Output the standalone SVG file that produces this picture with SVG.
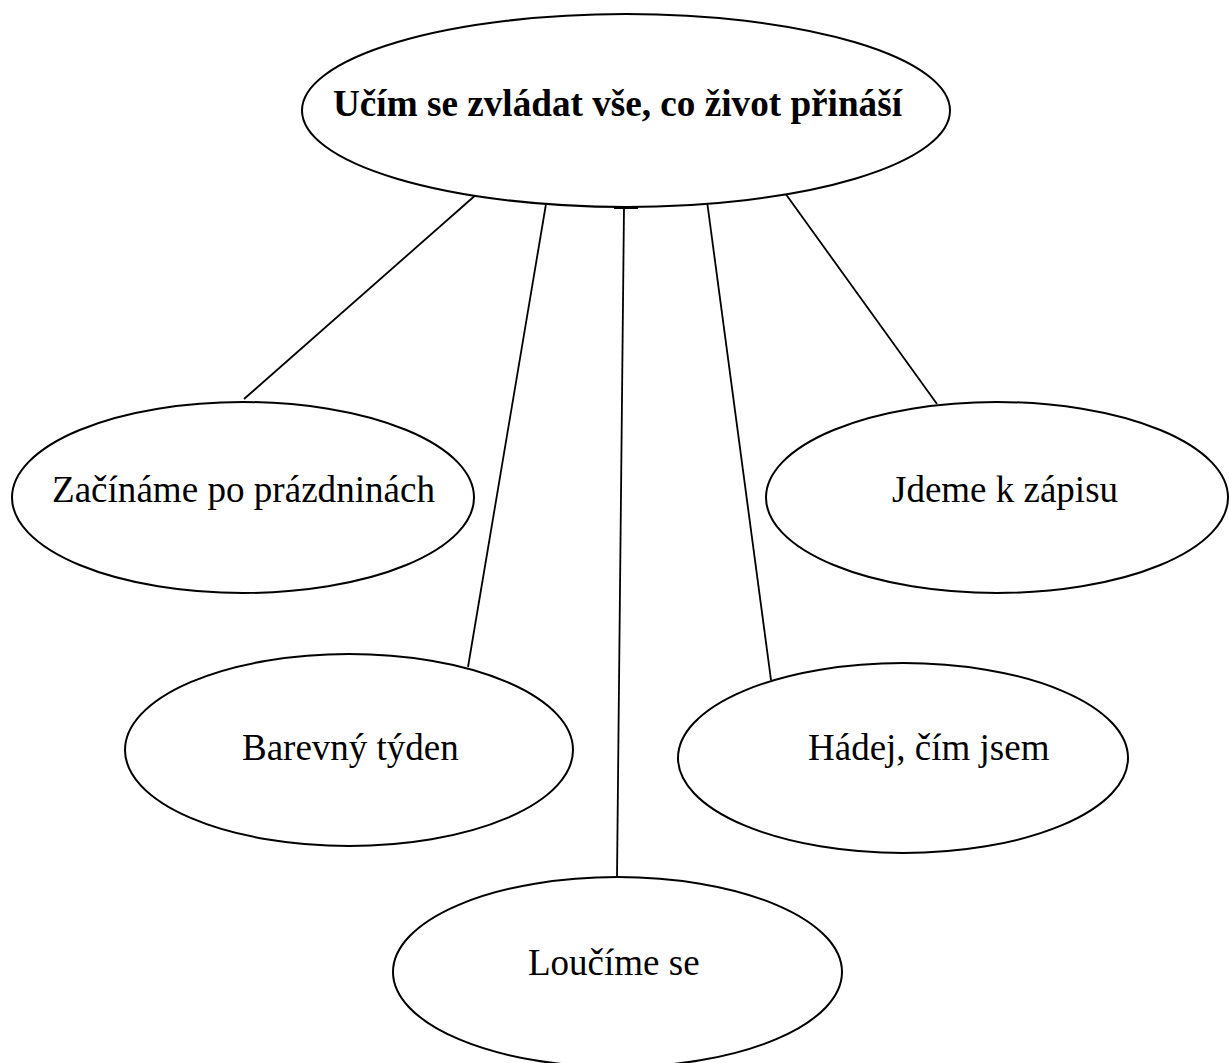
<svg xmlns="http://www.w3.org/2000/svg" width="1229" height="1063" viewBox="0 0 1229 1063">
<style>
.n{fill:#fff;stroke:#000;stroke-width:2}
.t{font-family:"Liberation Serif","Times New Roman",serif;font-size:37px;fill:#000}
.b{font-weight:bold}
.c{stroke:#000;stroke-width:1.8;fill:none}
</style>
<rect width="1229" height="1063" fill="#fff"/>
<g id="connectors">
<line class="c" x1="478" y1="193" x2="244" y2="399"/>
<line class="c" x1="546" y1="204" x2="468" y2="667"/>
<line class="c" x1="624" y1="207" x2="617" y2="877"/>
<line class="c" x1="707" y1="201" x2="771" y2="680"/>
<line class="c" x1="785" y1="193" x2="937" y2="404"/>
<line x1="614" y1="207.5" x2="638" y2="207.5" stroke="#000" stroke-width="3"/>
</g>
<g id="root">
<ellipse class="n" cx="626" cy="110.5" rx="324" ry="96.5"/>
<text class="t b" x="333" y="116" textLength="569" lengthAdjust="spacingAndGlyphs">Učím se zvládat vše, co život přináší</text>
</g>
<g id="zaciname">
<ellipse class="n" cx="243" cy="497.5" rx="231" ry="95.5"/>
<text class="t" x="52" y="502" textLength="383" lengthAdjust="spacingAndGlyphs">Začínáme po prázdninách</text>
</g>
<g id="barevny">
<ellipse class="n" cx="349" cy="750" rx="224" ry="96"/>
<text class="t" x="242" y="760">Barevný týden</text>
</g>
<g id="loucime">
<ellipse class="n" cx="617.5" cy="972" rx="224.5" ry="95"/>
<text class="t" x="528" y="975">Loučíme se</text>
</g>
<g id="hadej">
<ellipse class="n" cx="903" cy="758" rx="225" ry="95"/>
<text class="t" x="808" y="760">Hádej, čím jsem</text>
</g>
<g id="jdeme">
<ellipse class="n" cx="997" cy="497.5" rx="231" ry="95.5"/>
<text class="t" x="892" y="502">Jdeme k zápisu</text>
</g>
</svg>
